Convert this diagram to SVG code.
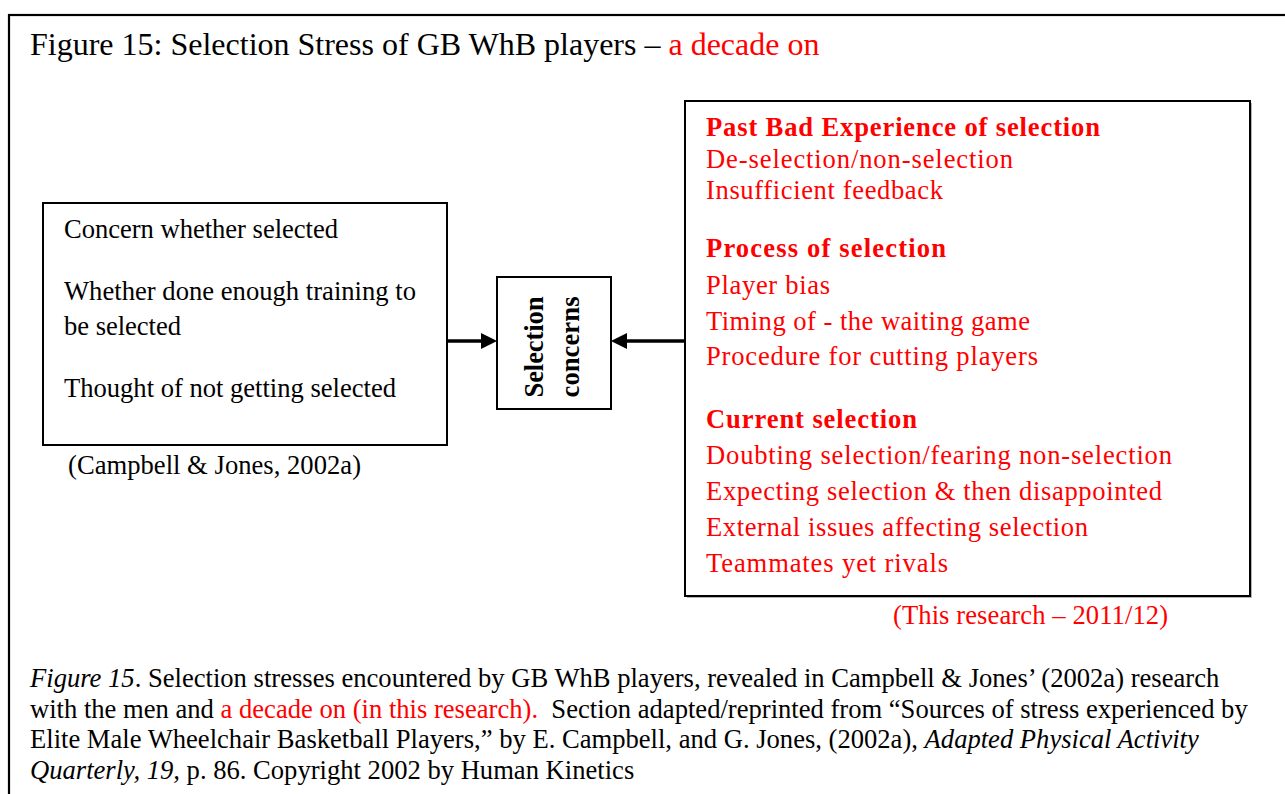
<svg xmlns="http://www.w3.org/2000/svg" width="1285" height="794" viewBox="0 0 1285 794">
<style>
.t{font-family:"Liberation Serif","Times New Roman",serif;font-size:26.6px;fill:#000}
.r{fill:#ff0000}
.c{font-family:"Liberation Serif","Times New Roman",serif;font-size:26.6px;fill:#ff0000}
.b{font-weight:bold}
.i{font-style:italic}
.box{fill:#fff;stroke:#000;stroke-width:2}
.conn{stroke:#000;stroke-width:3.5;fill:none}
</style>
<defs>
<marker id="ah" markerWidth="6" markerHeight="6" refX="0" refY="3" orient="auto" markerUnits="strokeWidth">
<path d="M0,0.7 L4.6,3 L0,5.3 Z" fill="#000"/>
</marker>
</defs>
<rect x="0" y="0" width="1285" height="794" fill="#fff"/>
<rect x="9" y="15" width="1300" height="800" fill="none" stroke="#000" stroke-width="2.2"/>
<text class="t" x="30" y="55" style="font-size:32px">Figure 15: Selection Stress of GB WhB players – <tspan class="r">a decade on</tspan></text>

<g id="connectors">
<line class="conn" x1="448" y1="341" x2="481" y2="341" marker-end="url(#ah)"/>
<line class="conn" x1="685" y1="341" x2="627" y2="341" marker-end="url(#ah)"/>
</g>

<g id="node-campbell">
<rect class="box" x="43" y="203" width="404" height="242"/>
<text class="t" x="64" y="238" textLength="274">Concern whether selected</text>
<text class="t" x="64" y="300" textLength="352">Whether done enough training to</text>
<text class="t" x="64" y="335" textLength="117">be selected</text>
<text class="t" x="64" y="397" textLength="332">Thought of not getting selected</text>
<text class="t" x="68" y="474" textLength="293">(Campbell &amp; Jones, 2002a)</text>
</g>

<g id="node-selection">
<rect class="box" x="497" y="277" width="114" height="132"/>
<text class="t b" transform="translate(543,347) rotate(-90)" text-anchor="middle" textLength="101">Selection</text>
<text class="t b" transform="translate(579,347) rotate(-90)" text-anchor="middle" textLength="101">concerns</text>
</g>

<g id="node-research">
<path d="M1251,103 V597 H687" fill="none" stroke="#999" stroke-width="1.5"/>
<rect class="box" x="685" y="101" width="565" height="495"/>
<text class="c b" x="706" y="136" textLength="394">Past Bad Experience of selection</text>
<text class="c" x="706" y="168" textLength="307">De-selection/non-selection</text>
<text class="c" x="706" y="199" textLength="237">Insufficient feedback</text>
<text class="c b" x="706" y="257" textLength="240">Process of selection</text>
<text class="c" x="706" y="294" textLength="124">Player bias</text>
<text class="c" x="706" y="330" textLength="324">Timing of - the waiting game</text>
<text class="c" x="706" y="365" textLength="332">Procedure for cutting players</text>
<text class="c b" x="706" y="428" textLength="211">Current selection</text>
<text class="c" x="706" y="464" textLength="466">Doubting selection/fearing non-selection</text>
<text class="c" x="706" y="500" textLength="456">Expecting selection &amp; then disappointed</text>
<text class="c" x="706" y="536" textLength="382">External issues affecting selection</text>
<text class="c" x="706" y="572" textLength="242">Teammates yet rivals</text>
<text class="c" x="893" y="624" textLength="275">(This research – 2011/12)</text>
</g>

<g id="caption">
<text class="t" x="30" y="687"><tspan class="i">Figure 15</tspan>. Selection stresses encountered by GB WhB players, revealed in Campbell &amp; Jones’ (2002a) research</text>
<text class="t" x="30" y="718" style="white-space:pre">with the men and <tspan class="r">a decade on (in this research).</tspan>  Section adapted/reprinted from “Sources of stress experienced by</text>
<text class="t" x="30" y="748">Elite Male Wheelchair Basketball Players,” by E. Campbell, and G. Jones, (2002a), <tspan class="i">Adapted Physical Activity</tspan></text>
<text class="t" x="30" y="779"><tspan class="i">Quarterly, 19,</tspan> p. 86. Copyright 2002 by Human Kinetics</text>
</g>
</svg>
